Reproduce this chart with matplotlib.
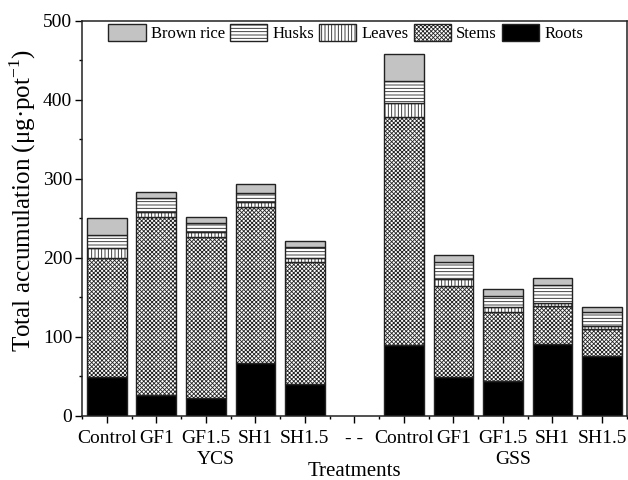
import matplotlib
matplotlib.use("Agg")
import matplotlib.pyplot as plt
import numpy as np
from matplotlib.ticker import MultipleLocator, FixedLocator

plt.rcParams['font.family'] = ['Liberation Serif', 'DejaVu Serif']
plt.rcParams['hatch.linewidth'] = 0.6
plt.rcParams['mathtext.fontset'] = 'custom'
plt.rcParams['mathtext.rm'] = 'Liberation Serif'

tick_labels = ["Control", "GF1", "GF1.5", "SH1", "SH1.5", "- -",
               "Control", "GF1", "GF1.5", "SH1", "SH1.5"]
bar_slots = [0, 1, 2, 3, 4, 6, 7, 8, 9, 10]
groups = ["YCS", "GSS"]

roots = [49, 26, 23, 67, 40, 89, 49, 44, 91, 75]
stems = [151, 225, 203, 197, 155, 289, 115, 87, 48, 35]
leaves = [12, 7, 6, 6, 4, 18, 9, 6, 4, 3]
husks = [17, 17.5, 12, 11.5, 14, 27.5, 21.5, 14.5, 22, 18]
brown_rice = [21.5, 8, 7.5, 11.5, 8, 34, 9.5, 8.5, 9.5, 6.5]

fig = plt.figure(figsize=(6.28, 4.8), dpi=100)
ax = fig.add_axes([0.1306, 0.134, 0.8674, 0.823])

x = np.array(bar_slots)
w = 0.8
edge = '#222222'
bottom = np.zeros(len(x))
series = [
    ("Roots", roots, 'black', ''),
    ("Stems", stems, 'white', 'xxxxxxxx'),
    ("Leaves", leaves, 'white', '|||||'),
    ("Husks", husks, 'white', '-----'),
    ("Brown rice", brown_rice, '#c3c3c3', ''),
]
handles = {}
for name, vals, fc, hatch in series:
    vals = np.array(vals, dtype=float)
    b = ax.bar(x, vals, w, bottom=bottom, color=fc, edgecolor=edge,
               linewidth=1.0, hatch=hatch, label=name)
    handles[name] = b
    bottom += vals

ax.set_xlim(-0.5, 10.5)
ax.set_ylim(0, 500)
ax.set_xticks(range(11))
ax.set_xticklabels(tick_labels, fontsize=14)
ax.xaxis.set_minor_locator(FixedLocator(np.arange(-0.5, 11, 1.0)))
ax.yaxis.set_major_locator(MultipleLocator(100))
ax.yaxis.set_minor_locator(MultipleLocator(50))
ax.tick_params(axis='both', which='major', direction='out', length=5, width=1.0, labelsize=14, pad=2)
ax.tick_params(axis='x', which='major', pad=5)
ax.tick_params(axis='both', which='minor', direction='out', length=2.5, width=1.0)
for s in ax.spines.values():
    s.set_linewidth(1.1)
    s.set_color('#222222')

ax.set_ylabel("Total accumulation (μg·pot$^{-1}$)", fontsize=18)
ax.yaxis.set_label_coords(-0.08, 0.546)

ax.text(2.2, -0.112, groups[0], transform=ax.get_xaxis_transform(), ha='center', va='center', fontsize=14)
ax.text(8.2, -0.112, groups[1], transform=ax.get_xaxis_transform(), ha='center', va='center', fontsize=14)
ax.text(5.0, -0.141, "Treatments", transform=ax.get_xaxis_transform(), ha='center', va='center', fontsize=15)

order = ["Brown rice", "Husks", "Leaves", "Stems", "Roots"]
ax.legend([handles[n] for n in order], order, loc='center', bbox_to_anchor=(0.484, 0.9676),
          ncol=5, frameon=False, fontsize=12, handlelength=2.25, handleheight=1.15,
          handletextpad=0.3, columnspacing=0.3, borderpad=0.1)

fig.savefig("out.png", dpi=100)
